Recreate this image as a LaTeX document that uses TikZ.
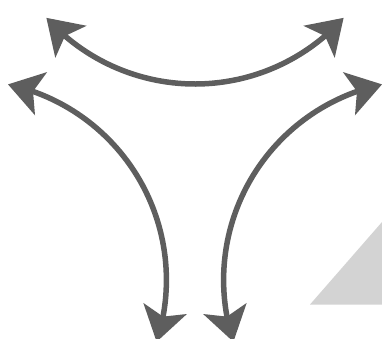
\documentclass[tikz,border=0pt]{standalone}
\usetikzlibrary{arrows.meta,bending}
\definecolor{arrowgray}{HTML}{5E5E5E}
\definecolor{trigray}{HTML}{D3D3D3}
\tikzset{
  bigarrow/.style={draw=arrowgray, line width=5.5pt,
    {Stealth[length=34pt,width=44pt,inset=8pt]}-{Stealth[length=34pt,width=44pt,inset=8pt]}},
}
\begin{document}
\begin{tikzpicture}[x=1pt,y=1pt]
\useasboundingbox (0,0) rectangle (382,-338);
% gray triangle
\fill[trigray] (310,-304.5) -- (382,-222) -- (382,-304.5) -- cycle;
% arc centres (equilateral triangle around centroid (195,-148))
\coordinate (ctop) at (195,116);
\coordinate (cleft) at (-33.6,-280);
\coordinate (cright) at (423.6,-280);
% top arc
\draw[bigarrow] (ctop) ++(222:200) arc[start angle=222, end angle=318, radius=200];
% left arc
\draw[bigarrow] (cleft) ++(78:200) arc[start angle=78, end angle=-18, radius=200];
% right arc
\draw[bigarrow] (cright) ++(102:200) arc[start angle=102, end angle=198, radius=200];
\end{tikzpicture}
\end{document}
